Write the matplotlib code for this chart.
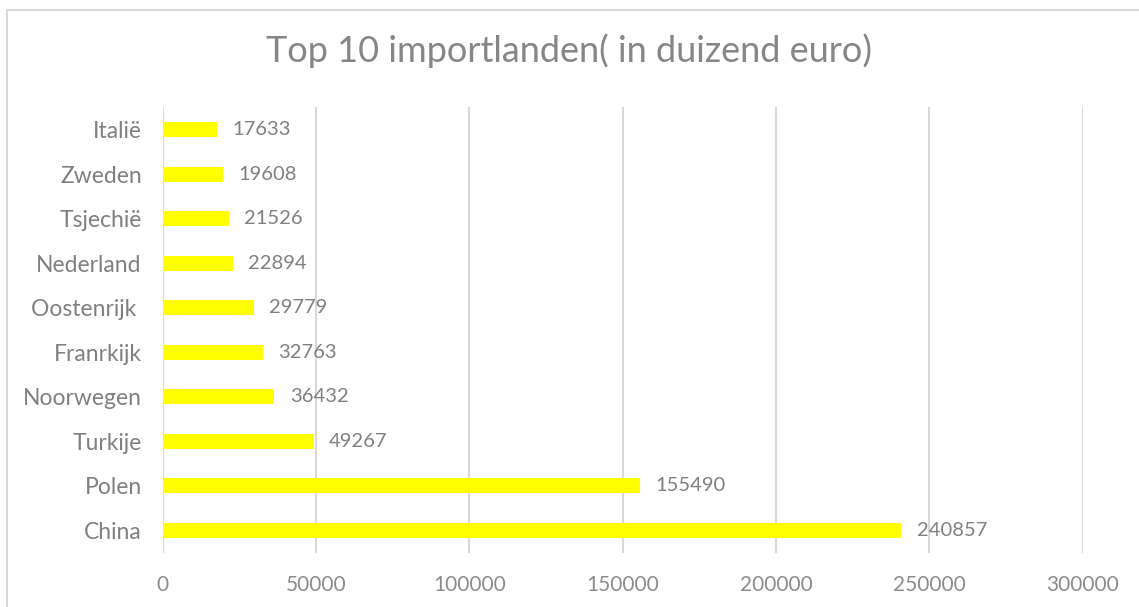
import matplotlib
matplotlib.use("Agg")
import matplotlib.pyplot as plt
from matplotlib.lines import Line2D

countries = ["China", "Polen", "Turkije", "Noorwegen", "Franrkijk", "Oostenrijk ",
             "Nederland", "Tsjechië", "Zweden", "Italië"]
values = [240857, 155490, 49267, 36432, 32763, 29779, 22894, 21526, 19608, 17633]
xticks = [0, 50000, 100000, 150000, 200000, 250000, 300000]
title = "Top 10 importlanden( in duizend euro)"

plt.rcParams['font.family'] = ['Lato', 'DejaVu Sans']

W, H = 1139, 607
fig = plt.figure(figsize=(W / 100, H / 100), dpi=100)
fig.patch.set_facecolor("white")

# chart border (left and top visible)
fig.add_artist(Line2D([7 / W, 7 / W], [0, 1 - 10 / H], transform=fig.transFigure,
                      color="#d9d9d9", lw=1.5))
fig.add_artist(Line2D([7 / W, 1], [1 - 10 / H, 1 - 10 / H], transform=fig.transFigure,
                      color="#d9d9d9", lw=1.5))

ax = fig.add_axes([162.7 / W, 1 - 552.7 / H, 920 / W, 445.4 / H])
ypos = list(range(len(countries)))
ax.barh(ypos, values, height=0.34, color="#ffff00", zorder=3)
ax.set_xlim(0, 300000)
ax.set_ylim(-0.5, len(countries) - 0.5)
ax.set_xticks(xticks)
ax.set_xticklabels([str(t) for t in xticks], fontsize=15, color="#8c8c8c")
ax.set_yticks(ypos)
ax.set_yticklabels(countries, fontsize=16.5, color="#808080")
ax.tick_params(axis="both", length=0)
ax.tick_params(axis="x", pad=16)
ax.tick_params(axis="y", pad=15)
for s in ax.spines.values():
    s.set_visible(False)
ax.grid(axis="x", color="#d9d9d9", lw=1.5, zorder=0)
ax.set_axisbelow(True)

for y, v in zip(ypos, values):
    ax.text(v + 5000, y, str(v), va="center", ha="left", fontsize=14.5,
            color="#808080")

fig.text(0.5, 1 - 51 / H, title, ha="center", va="center", fontsize=26,
         color="#868686")

fig.savefig("out.png", dpi=100, facecolor="white")
